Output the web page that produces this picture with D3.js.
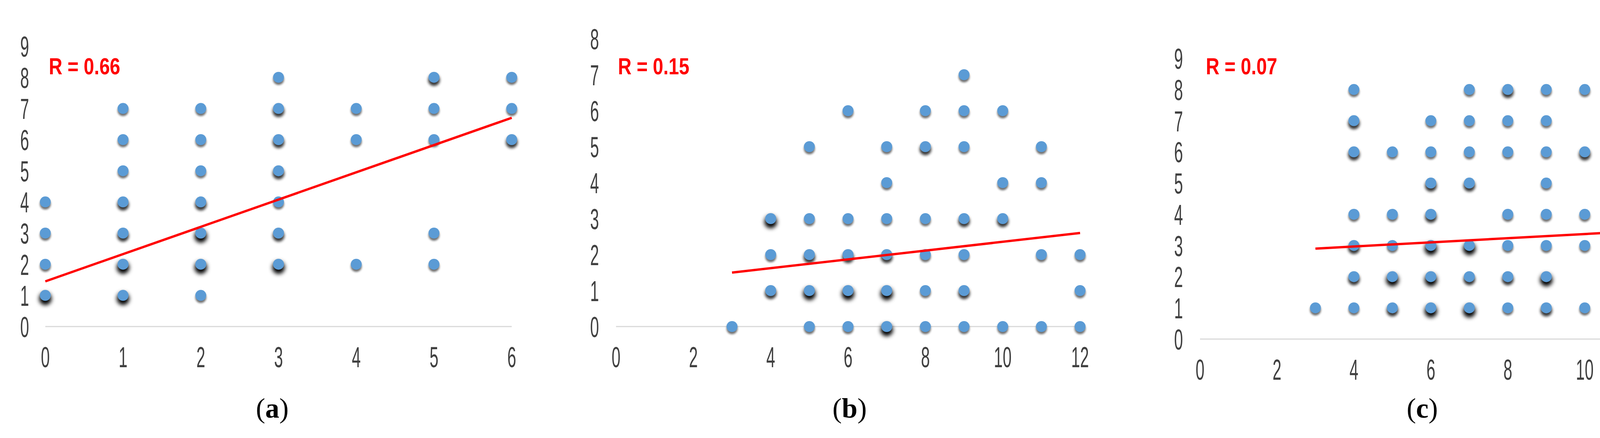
<!DOCTYPE html>
<html>
<head>
<meta charset="utf-8">
<script src="https://cdn.jsdelivr.net/npm/d3@7"></script>
<style>
  body { margin: 0; background: #fff; }
  svg { display: block; }
</style>
</head>
<body>
<svg id="chart" width="4339" height="1120"></svg>
<script>
// Punkte: [x, y, gewicht] (gewicht = Ueberlagerung, dunklerer Schatten)
const pointsA = [
  [0,4,1],[0,3,1],[0,2,1],[0,1,3],
  [1,7,1],[1,6,1],[1,5,1],[1,4,2],[1,3,2],[1,2,3],[1,1,3],
  [2,7,1],[2,6,1],[2,5,1],[2,4,2],[2,3,3],[2,2,3],[2,1,1],
  [3,8,1],[3,7,2],[3,6,2],[3,5,2],[3,4,1],[3,3,2],[3,2,3],
  [4,7,1],[4,6,1],[4,2,1],
  [5,8,2],[5,7,1],[5,6,1],[5,3,1],[5,2,1],
  [6,8,1],[6,7,1],[6,6,2]
];
const pointsB = [
  [3,0,1],
  [4,3,3],[4,2,1],[4,1,2],
  [5,5,1],[5,3,1],[5,2,2],[5,1,3],[5,0,1],
  [6,6,1],[6,3,1],[6,2,2],[6,1,3],[6,0,1],
  [7,5,1],[7,4,1],[7,3,1],[7,2,2],[7,1,3],[7,0,3],
  [8,6,1],[8,5,2],[8,3,1],[8,2,1],[8,1,1],[8,0,1],
  [9,7,1],[9,6,1],[9,5,1],[9,3,2],[9,2,1],[9,1,2],[9,0,1],
  [10,6,1],[10,4,1],[10,3,2],[10,0,1],
  [11,5,1],[11,4,1],[11,2,1],[11,0,1],
  [12,2,1],[12,1,1],[12,0,1]
];
const pointsC = [
  [3,1,1],
  [4,8,1],[4,7,2],[4,6,2],[4,4,1],[4,3,2],[4,2,2],[4,1,1],
  [5,6,1],[5,4,1],[5,3,1],[5,2,3],[5,1,2],
  [6,7,1],[6,6,1],[6,5,2],[6,4,2],[6,3,3],[6,2,3],[6,1,3],
  [7,8,1],[7,7,1],[7,6,1],[7,5,2],[7,3,3],[7,2,2],[7,1,3],
  [8,8,2],[8,7,1],[8,6,1],[8,4,1],[8,3,1],[8,2,2],[8,1,1],
  [9,8,1],[9,7,1],[9,6,1],[9,5,1],[9,4,1],[9,3,1],[9,2,3],[9,1,2],
  [10,8,1],[10,6,2],[10,4,1],[10,3,1],[10,1,1],
  [11,7,1],[11,2,2],[11,1,1],
  [12,3,1],[12,2,1],[12,1,1]
];
// Trendlinien [[x1,y1],[x2,y2]]
const trendA = [[0,1.45],[6,6.7]];
const trendB = [[3,1.5],[12,2.6]];
const trendC = [[3,2.9],[12,3.5]];
const xTicksA = [0,1,2,3,4,5,6];
const xTicksBC = [0,2,4,6,8,10,12];
const rLabels = ['R = 0.66','R = 0.15','R = 0.07'];
const panelLabels = ['a','b','c'];

const panels = [
  { pts: pointsA, trend: trendA, xDom: [0,6], xTicks: xTicksA, yMax: 9,
    x0: 116, x1: 1310, y0: 835, y1: 118, yLabX: 63, xLabY: 912, rx: 125, rLab: rLabels[0], cap: panelLabels[0], capX: 697 },
  { pts: pointsB, trend: trendB, xDom: [0,12], xTicks: xTicksBC, yMax: 8,
    x0: 1577, x1: 2765, y0: 835, y1: 99, yLabX: 1522, xLabY: 912, rx: 1582, rLab: rLabels[1], cap: panelLabels[1], capX: 2175 },
  { pts: pointsC, trend: trendC, xDom: [0,12], xTicks: xTicksBC, yMax: 9,
    x0: 3072, x1: 4254, y0: 867, y1: 149, yLabX: 3017, xLabY: 944, rx: 3087, rLab: rLabels[2], cap: panelLabels[2], capX: 3641 }
];

const svg = d3.select('#chart');
const defs = svg.append('defs');
[1,2,3].forEach(w => {
  defs.append('filter').attr('id', 'blur' + w)
    .attr('x', '-100%').attr('y', '-100%').attr('width', '300%').attr('height', '300%')
    .append('feGaussianBlur').attr('stdDeviation', 1.5 + w * 1.2);
});

function label(g, x, y, txt, size, anchor) {
  g.append('text')
    .attr('transform', `translate(${x},${y}) scale(0.55,1)`)
    .attr('text-anchor', anchor)
    .style('font-family', 'Liberation Sans, Arial, sans-serif')
    .style('font-size', size + 'px')
    .style('fill', '#404040')
    .text(txt);
}

panels.forEach(p => {
  const g = svg.append('g');
  const x = d3.scaleLinear().domain(p.xDom).range([p.x0, p.x1]);
  const y = d3.scaleLinear().domain([0, p.yMax]).range([p.y0, p.y1]);

  // Achsenlinie
  g.append('line')
    .attr('x1', x(p.xDom[0])).attr('x2', x(p.xDom[1]))
    .attr('y1', y(0)).attr('y2', y(0))
    .attr('stroke', '#d9d9d9').attr('stroke-width', 3);

  // Tick-Beschriftungen
  d3.range(0, p.yMax + 1).forEach(v => label(g, p.yLabX, y(v) + 27, v, 74, 'middle'));
  p.xTicks.forEach(v => label(g, x(v), p.xLabY + 27, v, 74, 'middle'));

  // Schatten
  g.selectAll('.shadow').data(p.pts).enter().append('circle')
    .attr('cx', d => x(d[0]))
    .attr('cy', d => y(d[1]) + 4 + d[2] * 1.5)
    .attr('r', d => 13 + d[2])
    .attr('fill', '#000')
    .attr('opacity', d => 0.35 + 0.22 * d[2])
    .attr('filter', d => `url(#blur${d[2]})`);

  // Punkte
  g.selectAll('.dot').data(p.pts).enter().append('circle')
    .attr('cx', d => x(d[0]))
    .attr('cy', d => y(d[1]))
    .attr('r', 14)
    .attr('fill', '#5b9bd5');

  // Trendlinie
  g.append('line')
    .attr('x1', x(p.trend[0][0])).attr('y1', y(p.trend[0][1]))
    .attr('x2', x(p.trend[1][0])).attr('y2', y(p.trend[1][1]))
    .attr('stroke', '#ff0000').attr('stroke-width', 6);

  // R-Wert
  g.append('text')
    .attr('transform', `translate(${p.rx},190) scale(0.8,1)`)
    .style('font-family', 'Liberation Sans, Arial, sans-serif')
    .style('font-size', '60px').style('font-weight', 'bold')
    .style('fill', '#ff0000')
    .text(p.rLab);

  // Unterschrift
  const cap = g.append('text')
    .attr('x', p.capX).attr('y', 1068)
    .attr('text-anchor', 'middle')
    .style('font-family', 'Liberation Serif, Times New Roman, serif')
    .style('font-size', '72px').style('fill', '#000');
  cap.append('tspan').text('(');
  cap.append('tspan').style('font-weight', 'bold').text(p.cap);
  cap.append('tspan').text(')');
});
</script>
</body>
</html>
